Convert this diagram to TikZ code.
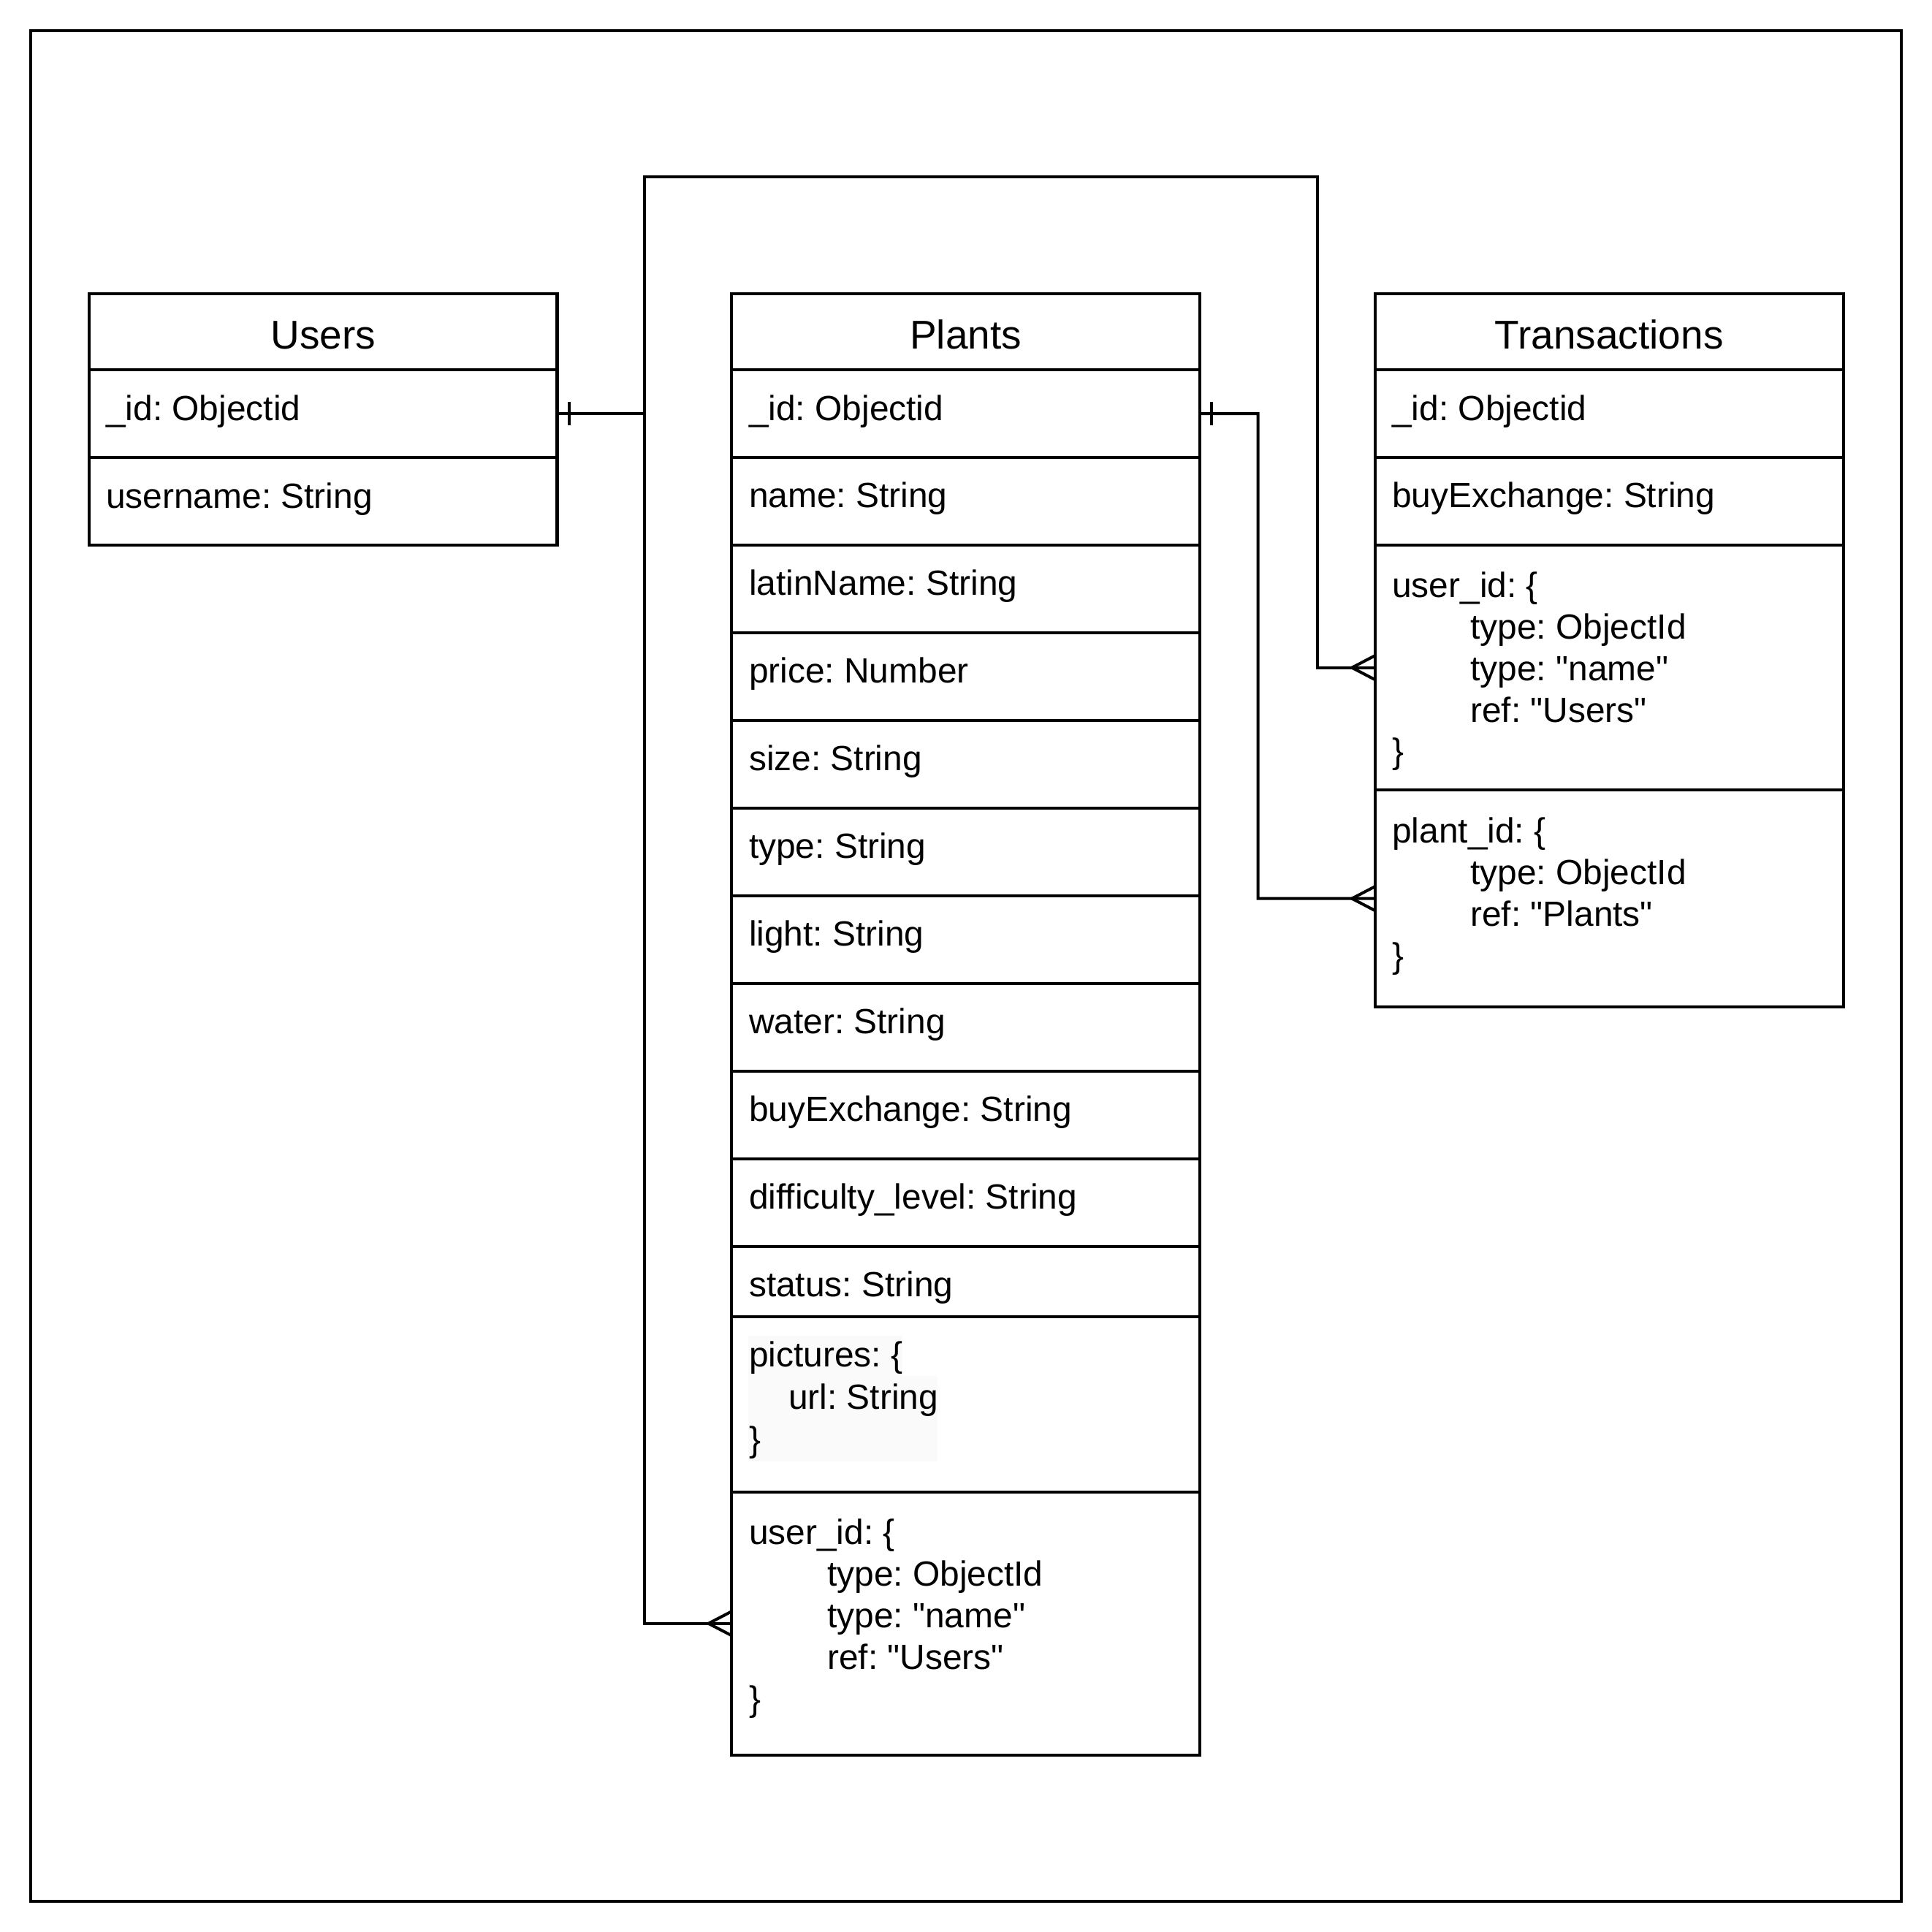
\documentclass[tikz,border=0pt]{standalone}
\usepackage{fontspec}
\setmainfont{Liberation Sans}
\usetikzlibrary{calc}
\definecolor{picbg}{HTML}{FAFAFA}
\newcommand{\fldfont}{\fontsize{14.2pt}{17pt}\selectfont}
\newcommand{\ttlfont}{\fontsize{16.3pt}{19pt}\selectfont}
\newcommand{\dq}{\XeTeXglyph\XeTeXcharglyph"22\relax}
\frenchspacing
\begin{document}
\begin{tikzpicture}[x=0.5pt,y=-0.5pt,
  ln/.style={line width=1.2pt},
  rowbox/.style={draw, line width=1.2pt, rectangle, inner sep=0pt, outer sep=0pt,
    anchor=north west, minimum width=380*0.5pt, minimum height=#1*0.5pt},
  fld/.style={anchor=base west, inner sep=0pt, font=\fldfont},
  ttl/.style={anchor=base, inner sep=0pt, font=\ttlfont}]
\useasboundingbox (0,0) rectangle (1568,1568);
\draw[ln] (24.9,24.9) rectangle (1543.1,1543.1);

% ---------- Users ----------
\node[rowbox=61.9] (u0) at (72.2,238.2) {};
\node[rowbox=71.2] (u1) at (72.2,300.1) {};
\node[rowbox=71.1] (u2) at (72.2,371.3) {};
\node[ttl] (ut0) at (262.2,283) {Users};
\node[fld] (ut1) at (85.7,341) {\_id: Objectid};
\node[fld] (ut2) at (85.7,412.2) {username: String};

% ---------- Plants ----------
\node[rowbox=61.9] (p0) at (593.8,238.2) {};
\node[ttl] (pt0) at (783.8,283) {Plants};
\foreach \i/\yy/\txt in {1/300.1/{\_id: Objectid},
                         2/371.25/{name: String},
                         3/442.4/{latinName: String},
                         4/513.55/{price: Number},
                         5/584.7/{size: String},
                         6/655.85/{type: String},
                         7/727.0/{light: String},
                         8/798.15/{water: String},
                         9/869.3/{buyExchange: String},
                         10/940.45/{difficulty\_level: String}}{
  \node[rowbox=71.15] (p\i) at (593.8,\yy) {};
  \node[fld] (pt\i) at (607.5,\yy+40.9) {\txt};
}
\node[rowbox=56.9] (p11) at (593.8,1011.6) {};
\node[fld] (pt11) at (607.5,1052.5) {status: String};
\node[rowbox=142.4] (p12) at (593.8,1068.5) {};
\fill[picbg] (607.3,1084) rectangle (732.4,1116.8);
\fill[picbg] (607.3,1116.8) rectangle (761,1186);
\node[fld] (pt12a) at (607.5,1109) {pictures: \{};
\node[fld] (pt12b) at (639.5,1143.6) {url: String};
\node[fld] (pt12c) at (607.5,1178) {\}};
\node[rowbox=213.4] (p13) at (593.8,1210.9) {};
\node[fld] (pt13a) at (607.5,1253.6) {user\_id: \{};
\node[fld] (pt13b) at (671,1287.3) {type: ObjectId};
\node[fld] (pt13c) at (671,1321.1) {type: \dq name\dq};
\node[fld] (pt13d) at (671,1354.9) {ref: \dq Users\dq};
\node[fld] (pt13e) at (607.5,1388.6) {\}};

% ---------- Transactions ----------
\node[rowbox=61.9] (t0) at (1116,238.2) {};
\node[ttl] (tt0) at (1306,283) {Transactions};
\node[rowbox=71.15] (t1) at (1116,300.1) {};
\node[fld] (tt1) at (1129.5,341) {\_id: Objectid};
\node[rowbox=71.15] (t2) at (1116,371.25) {};
\node[fld] (tt2) at (1129.5,412.15) {buyExchange: String};
\node[rowbox=198.9] (t3) at (1116,442.4) {};
\node[fld] (tt3a) at (1129.5,484.7) {user\_id: \{};
\node[fld] (tt3b) at (1193,518.4) {type: ObjectId};
\node[fld] (tt3c) at (1193,552.2) {type: \dq name\dq};
\node[fld] (tt3d) at (1193,586.0) {ref: \dq Users\dq};
\node[fld] (tt3e) at (1129.5,619.7) {\}};
\node[rowbox=175.9] (t4) at (1116,641.3) {};
\node[fld] (tt4a) at (1129.5,684.1) {plant\_id: \{};
\node[fld] (tt4b) at (1193,717.8) {type: ObjectId};
\node[fld] (tt4c) at (1193,751.6) {ref: \dq Plants\dq};
\node[fld] (tt4d) at (1129.5,785.4) {\}};

% ---------- Connectors ----------
\coordinate (j1) at (523,335.7);
\coordinate (j2) at (523,143.5);
\coordinate (j3) at (1069.3,143.5);
\coordinate (j4) at (1021,335.7);
\draw[ln] (u1.east) -- (j1) |- (p13.west);
\draw[ln] (j1) -- (j2) -- (j3) |- (t3.west);
\draw[ln] (p1.east) -- (j4) |- (t4.west);

% one-marks
\draw[ln] ($(u1.east)+(9.5,-9.5)$) -- ($(u1.east)+(9.5,9.5)$);
\draw[ln] ($(p1.east)+(9.5,-9.5)$) -- ($(p1.east)+(9.5,9.5)$);
% many-marks
\draw[ln] ($(t3.west)+(0,-9.8)$) -- ($(t3.west)+(-18.8,0)$) -- ($(t3.west)+(0,9.8)$);
\draw[ln] ($(t4.west)+(0,-9.8)$) -- ($(t4.west)+(-18.8,0)$) -- ($(t4.west)+(0,9.8)$);
\draw[ln] ($(p13.west)+(0,-9.8)$) -- ($(p13.west)+(-18.8,0)$) -- ($(p13.west)+(0,9.8)$);
\end{tikzpicture}
\end{document}
